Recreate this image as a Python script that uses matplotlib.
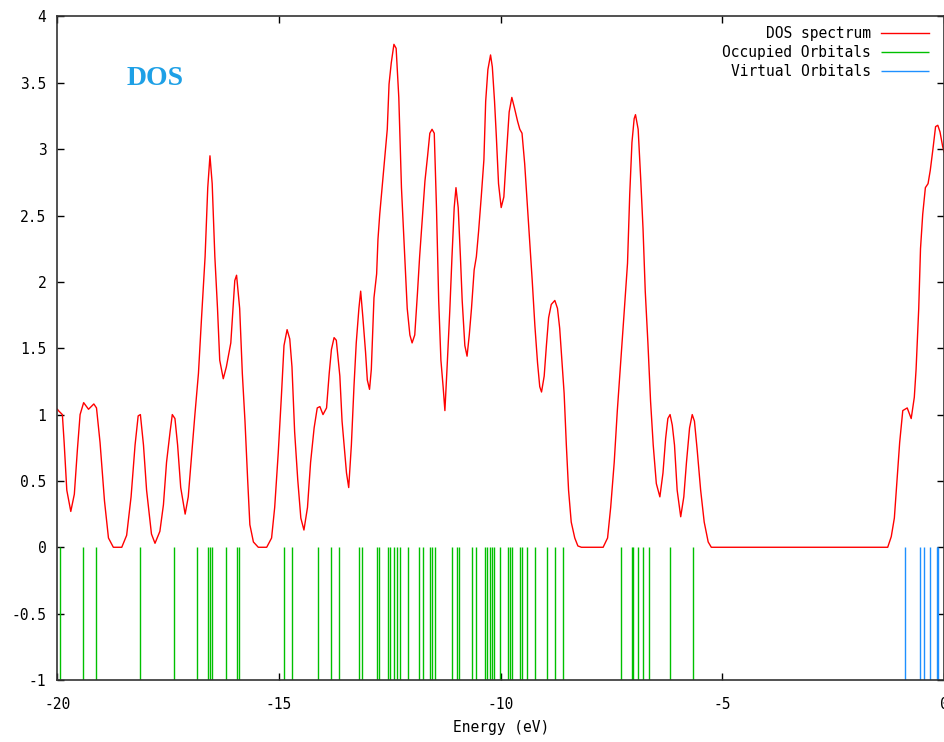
import numpy as np
import matplotlib
matplotlib.use("Agg")
import matplotlib.pyplot as plt
from matplotlib.ticker import MultipleLocator, FuncFormatter

# DOS curve (energy in eV, DOS)
dos_energy = [
    -20.00, -19.98, -19.89, -19.85, -19.79, -19.70, -19.62, -19.55, -19.49, -19.41,
    -19.30, -19.18, -19.12, -19.04, -18.94, -18.85, -18.74, -18.55, -18.44, -18.34,
    -18.25, -18.18, -18.13, -18.06, -17.99, -17.88, -17.80, -17.69, -17.61, -17.54,
    -17.46, -17.41, -17.35, -17.29, -17.22, -17.12, -17.05, -16.97, -16.90, -16.82,
    -16.75, -16.67, -16.61, -16.56, -16.51, -16.45, -16.39, -16.34, -16.26, -16.19,
    -16.09, -16.00, -15.96, -15.89, -15.83, -15.77, -15.71, -15.66, -15.58, -15.47,
    -15.28, -15.17, -15.10, -15.02, -14.95, -14.89, -14.82, -14.76, -14.71, -14.65,
    -14.58, -14.51, -14.44, -14.36, -14.29, -14.21, -14.14, -14.08, -14.01, -13.93,
    -13.87, -13.82, -13.76, -13.71, -13.63, -13.58, -13.52, -13.48, -13.43, -13.37,
    -13.31, -13.26, -13.20, -13.16, -13.11, -13.05, -13.01, -12.96, -12.92, -12.86,
    -12.80, -12.77, -12.73, -12.69, -12.64, -12.60, -12.56, -12.52, -12.47, -12.41,
    -12.36, -12.30, -12.24, -12.17, -12.11, -12.05, -12.00, -11.94, -11.88, -11.83,
    -11.77, -11.71, -11.65, -11.60, -11.55, -11.50, -11.45, -11.40, -11.35, -11.30,
    -11.26, -11.21, -11.15, -11.10, -11.05, -11.01, -10.96, -10.91, -10.87, -10.81,
    -10.76, -10.71, -10.66, -10.60, -10.55, -10.50, -10.44, -10.38, -10.34, -10.29,
    -10.23, -10.19, -10.14, -10.10, -10.05, -9.99, -9.93, -9.87, -9.81, -9.75,
    -9.69, -9.62, -9.57, -9.52, -9.46, -9.40, -9.35, -9.29, -9.23, -9.17,
    -9.12, -9.08, -9.02, -8.97, -8.92, -8.86, -8.78, -8.72, -8.67, -8.62,
    -8.57, -8.52, -8.47, -8.41, -8.33, -8.26, -8.18, -7.69, -7.59, -7.52,
    -7.44, -7.37, -7.29, -7.22, -7.14, -7.09, -7.04, -6.99, -6.96, -6.90,
    -6.84, -6.79, -6.74, -6.68, -6.62, -6.56, -6.49, -6.41, -6.34, -6.28,
    -6.23, -6.18, -6.13, -6.08, -6.02, -5.94, -5.87, -5.81, -5.74, -5.68,
    -5.63, -5.57, -5.49, -5.41, -5.32, -5.25, -1.27, -1.19, -1.12, -1.06,
    -1.00, -0.93, -0.83, -0.74, -0.67, -0.63, -0.57, -0.53, -0.48, -0.42,
    -0.36, -0.31, -0.25, -0.19, -0.14, -0.09, -0.03, 0.00,
]
dos_value = [
    1.04, 1.03, 1.00, 0.79, 0.43, 0.27, 0.40, 0.74, 1.00, 1.09,
    1.04, 1.08, 1.05, 0.79, 0.35, 0.07, 0.00, 0.00, 0.09, 0.38,
    0.77, 0.99, 1.00, 0.77, 0.43, 0.10, 0.03, 0.12, 0.32, 0.64,
    0.87, 1.00, 0.97, 0.77, 0.45, 0.25, 0.38, 0.71, 1.00, 1.31,
    1.73, 2.19, 2.71, 2.95, 2.74, 2.19, 1.80, 1.41, 1.27, 1.36,
    1.54, 2.01, 2.05, 1.80, 1.31, 0.95, 0.51, 0.17, 0.04, 0.00,
    0.00, 0.07, 0.30, 0.71, 1.13, 1.52, 1.64, 1.57, 1.36, 0.87,
    0.51, 0.22, 0.13, 0.30, 0.64, 0.90, 1.05, 1.06, 1.00, 1.05,
    1.31, 1.49, 1.58, 1.56, 1.29, 0.95, 0.71, 0.56, 0.45, 0.77,
    1.22, 1.54, 1.80, 1.93, 1.73, 1.47, 1.26, 1.19, 1.34, 1.88,
    2.06, 2.32, 2.51, 2.66, 2.84, 3.00, 3.15, 3.49, 3.65, 3.79,
    3.76, 3.39, 2.71, 2.22, 1.80, 1.60, 1.54, 1.60, 1.91, 2.19,
    2.48, 2.76, 2.95, 3.12, 3.15, 3.12, 2.56, 1.86, 1.41, 1.21,
    1.03, 1.36, 1.78, 2.19, 2.56, 2.71, 2.56, 2.19, 1.86, 1.52,
    1.44, 1.60, 1.80, 2.09, 2.19, 2.38, 2.64, 2.92, 3.36, 3.60,
    3.71, 3.62, 3.36, 3.10, 2.74, 2.56, 2.64, 2.97, 3.28, 3.39,
    3.31, 3.21, 3.15, 3.12, 2.89, 2.58, 2.32, 2.01, 1.67, 1.39,
    1.21, 1.17, 1.29, 1.52, 1.73, 1.83, 1.86, 1.80, 1.65, 1.41,
    1.16, 0.77, 0.43, 0.19, 0.07, 0.01, 0.00, 0.00, 0.07, 0.30,
    0.64, 1.03, 1.41, 1.75, 2.14, 2.66, 3.05, 3.23, 3.26, 3.15,
    2.76, 2.40, 1.93, 1.54, 1.10, 0.77, 0.48, 0.38, 0.56, 0.82,
    0.97, 1.00, 0.92, 0.77, 0.43, 0.23, 0.38, 0.64, 0.90, 1.00,
    0.95, 0.74, 0.43, 0.19, 0.04, 0.00, 0.00, 0.08, 0.22, 0.51,
    0.79, 1.03, 1.05, 0.97, 1.13, 1.34, 1.80, 2.25, 2.51, 2.71,
    2.74, 2.84, 3.00, 3.17, 3.18, 3.13, 3.02, 2.98,
]

# orbital energies (eV)
occupied = [
    -19.94, -19.42, -19.14, -18.14, -17.37, -16.86, -16.60, -16.56, -16.52, -16.20,
    -15.96, -15.90, -14.89, -14.71, -14.13, -13.82, -13.65, -13.20, -13.13, -12.79,
    -12.75, -12.54, -12.50, -12.41, -12.35, -12.28, -12.10, -11.85, -11.76, -11.59,
    -11.55, -11.49, -11.10, -10.99, -10.95, -10.64, -10.55, -10.36, -10.30, -10.25,
    -10.19, -10.15, -10.02, -9.84, -9.80, -9.75, -9.57, -9.51, -9.40, -9.23,
    -8.96, -8.78, -8.60, -7.29, -7.05, -7.02, -6.91, -6.80, -6.66, -6.19, -5.66,
]
virtual = [-0.87, -0.55, -0.46, -0.31, -0.16, -0.13]

plt.rcParams['font.family'] = ['DejaVu Sans Mono']
plt.rcParams['font.size'] = 10.5
plt.rcParams['axes.unicode_minus'] = False

fig = plt.figure(figsize=(9.44, 7.42), dpi=100)
ax = fig.add_axes([0.0609, 0.0836, 0.9391, 0.8942])

ax.plot(dos_energy, dos_value, color='#ff0000', lw=1.0, label='DOS spectrum')
ax.vlines(occupied, -1, 0, color='#00c000', lw=1.0, label='Occupied Orbitals')
ax.vlines(virtual, -1, 0, color='#1e90ff', lw=1.0, label='Virtual Orbitals')

ax.set_xlim(-20, 0)
ax.set_ylim(-1, 4)
ax.xaxis.set_major_locator(MultipleLocator(5))
ax.yaxis.set_major_locator(MultipleLocator(0.5))
ax.yaxis.set_major_formatter(FuncFormatter(lambda v, p: '%g' % v))
ax.xaxis.set_major_formatter(FuncFormatter(lambda v, p: '%g' % v))
ax.tick_params(direction='in', length=5, width=1, top=True, right=True, pad=8)
ax.tick_params(axis='x', pad=12)
for s in ax.spines.values():
    s.set_linewidth(1.2)
    s.set_color('#333333')

ax.set_xlabel('Energy (eV)', labelpad=6)

ax.text(-17.8, 3.53, 'DOS', color='#1ea0e6', fontsize=20, fontweight='bold',
        family='Liberation Serif', ha='center', va='center')

ax.legend(loc='upper right', bbox_to_anchor=(0.998, 1.006), frameon=False,
          markerfirst=False, handlelength=3.3, labelspacing=0.3, handletextpad=0.7)

fig.savefig('out.png', dpi=100)
